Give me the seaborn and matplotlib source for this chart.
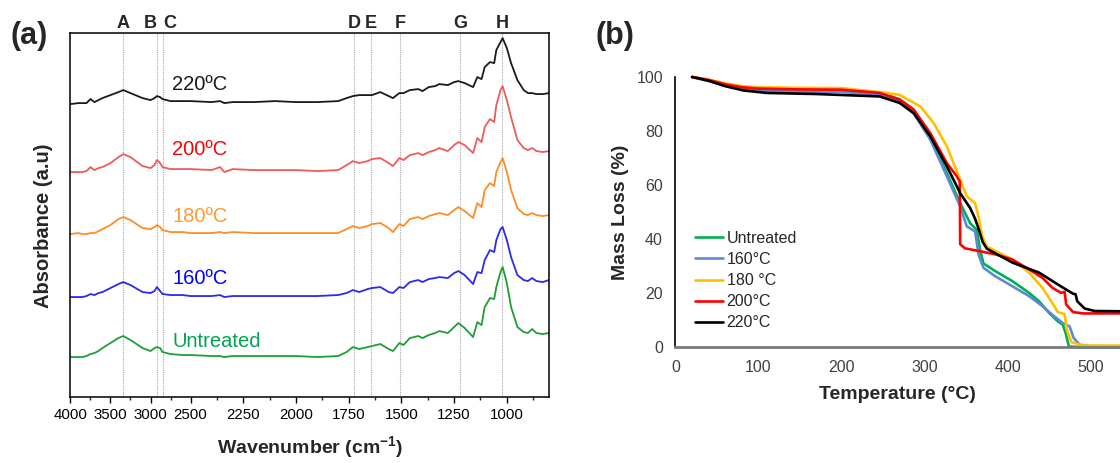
import numpy as np
import pandas as pd
import matplotlib
matplotlib.use("Agg")
import matplotlib.pyplot as plt
import seaborn as sns

# ---------------- (a) FTIR spectra ----------------
wavenumber = [4000, 3900, 3850, 3800, 3750, 3700, 3650, 3600, 3500, 3400,
              3340, 3250, 3100, 3000, 2950, 2920, 2880, 2850, 2750, 2600,
              2500, 2400, 2360, 2340, 2300, 2200, 2100, 2000, 1900, 1800,
              1760, 1730, 1700, 1660, 1640, 1600, 1560, 1540, 1510, 1490,
              1460, 1420, 1400, 1370, 1340, 1320, 1280, 1250, 1230, 1200,
              1160, 1140, 1120, 1105, 1080, 1060, 1050, 1030, 1020, 1000,
              980, 950, 920, 900, 880, 860, 830, 800]

abs_220 = [2.93, 2.94, 2.94, 2.94, 2.98, 2.95, 2.97, 2.99, 3.02, 3.05,
           3.07, 3.04, 2.99, 2.97, 2.99, 3.01, 3.00, 2.98, 2.96, 2.96,
           2.96, 2.95, 2.96, 2.94, 2.95, 2.95, 2.96, 2.95, 2.95, 2.96,
           2.99, 3.01, 3.02, 3.02, 3.02, 3.05, 3.01, 2.99, 3.04, 3.04,
           3.07, 3.08, 3.06, 3.10, 3.11, 3.13, 3.12, 3.15, 3.16, 3.14,
           3.10, 3.20, 3.18, 3.30, 3.35, 3.34, 3.47, 3.55, 3.59, 3.49,
           3.34, 3.17, 3.07, 3.04, 3.04, 3.03, 3.03, 3.04]
abs_200 = [2.25, 2.25, 2.25, 2.26, 2.30, 2.27, 2.29, 2.30, 2.34, 2.40,
           2.43, 2.40, 2.31, 2.29, 2.32, 2.37, 2.34, 2.30, 2.28, 2.28,
           2.28, 2.27, 2.30, 2.25, 2.28, 2.27, 2.27, 2.27, 2.26, 2.27,
           2.32, 2.36, 2.34, 2.36, 2.38, 2.39, 2.34, 2.31, 2.39, 2.37,
           2.42, 2.44, 2.42, 2.45, 2.47, 2.49, 2.46, 2.52, 2.55, 2.52,
           2.44, 2.59, 2.55, 2.70, 2.78, 2.75, 2.92, 3.07, 3.11, 2.97,
           2.80, 2.57, 2.49, 2.47, 2.49, 2.46, 2.45, 2.46]
abs_180 = [1.63, 1.64, 1.63, 1.63, 1.64, 1.64, 1.66, 1.68, 1.72, 1.78,
           1.80, 1.77, 1.69, 1.68, 1.70, 1.72, 1.70, 1.67, 1.65, 1.65,
           1.64, 1.64, 1.65, 1.64, 1.65, 1.64, 1.64, 1.64, 1.64, 1.64,
           1.68, 1.71, 1.69, 1.71, 1.73, 1.74, 1.69, 1.65, 1.73, 1.71,
           1.78, 1.80, 1.78, 1.81, 1.83, 1.84, 1.82, 1.87, 1.90, 1.86,
           1.79, 1.94, 1.90, 2.07, 2.14, 2.11, 2.25, 2.35, 2.39, 2.25,
           2.07, 1.89, 1.83, 1.82, 1.84, 1.82, 1.81, 1.82]
abs_160 = [1.00, 1.00, 1.00, 1.01, 1.03, 1.02, 1.04, 1.05, 1.09, 1.13,
           1.15, 1.12, 1.05, 1.04, 1.06, 1.10, 1.06, 1.03, 1.02, 1.02,
           1.01, 1.01, 1.02, 1.00, 1.01, 1.01, 1.01, 1.01, 1.01, 1.02,
           1.04, 1.07, 1.05, 1.08, 1.09, 1.10, 1.05, 1.04, 1.10, 1.09,
           1.15, 1.17, 1.15, 1.18, 1.19, 1.20, 1.19, 1.24, 1.26, 1.22,
           1.13, 1.25, 1.24, 1.37, 1.47, 1.45, 1.57, 1.68, 1.70, 1.57,
           1.40, 1.22, 1.17, 1.16, 1.19, 1.16, 1.15, 1.17]
abs_untreated = [0.40, 0.40, 0.40, 0.41, 0.43, 0.44, 0.46, 0.49, 0.54, 0.59,
                 0.61, 0.57, 0.49, 0.46, 0.49, 0.50, 0.49, 0.45, 0.43, 0.42,
                 0.42, 0.41, 0.41, 0.40, 0.41, 0.41, 0.41, 0.41, 0.40, 0.41,
                 0.45, 0.50, 0.48, 0.50, 0.51, 0.53, 0.48, 0.46, 0.54, 0.52,
                 0.59, 0.61, 0.59, 0.62, 0.64, 0.66, 0.64, 0.70, 0.74, 0.69,
                 0.60, 0.75, 0.72, 0.90, 0.99, 0.98, 1.10, 1.25, 1.30, 1.14,
                 0.90, 0.70, 0.65, 0.64, 0.68, 0.64, 0.63, 0.64]

ftir_names = ["220ºC", "200ºC", "180ºC", "160ºC", "Untreated"]
ftir_series = [abs_220, abs_200, abs_180, abs_160, abs_untreated]
ftir_line_colors = ["#1a1a1a", "#f05a5a", "#ff8c26", "#2a2af0", "#1f9e34"]
ftir_text_colors = ["#1a1a1a", "#ff0000", "#ff9933", "#0000ff", "#00a550"]

peak_letters = ["A", "B", "C", "D", "E", "F", "G", "H"]
peak_wn = [3340, 2920, 2850, 1725, 1645, 1505, 1222, 1022]

xticks_major = [4000, 3500, 3000, 2500, 2250, 2000, 1750, 1500, 1250, 1000]
xticks_minor = [3750, 3250, 2750, 2375, 2125, 1875, 1625, 1375, 1125, 875]

# ---------------- (b) TGA curves ----------------
t_untreated = [20, 40, 60, 80, 100, 150, 200, 246, 270, 287, 307, 327, 343, 355,
               363, 367, 371, 385, 405.6, 426, 438, 450, 460.5, 466.6, 470, 474,
               490, 536]
m_untreated = [100, 98.9, 97.3, 96.3, 95.8, 95.6, 95.4, 94.1, 91.8, 87.9, 78, 64.4,
               53.3, 45.9, 43.4, 36, 31, 28.2, 24.5, 20.1, 17, 12.7, 9.6, 8.3, 5.2,
               0.25, 0, 0]
t_160 = [20, 40, 60, 80, 100, 150, 200, 246, 270, 287, 307, 327, 343, 351, 361,
         365, 371, 385, 405.6, 426, 442, 454, 466.6, 474.8, 479.7, 487, 499, 536]
m_160 = [100, 98.5, 96.8, 95.5, 94.9, 94.6, 94.5, 93.4, 91, 86.6, 76.8, 63.2, 52.1,
         44.7, 42.8, 34.4, 29.4, 26.3, 22.6, 18.9, 15.2, 12, 8.9, 7.7, 3.4, 0.9,
         0.4, 0.3]
t_180 = [20, 40, 60, 80, 100, 150, 200, 246, 270, 295, 311, 327, 343, 351, 361,
         365, 369, 375, 385, 405.6, 426, 442, 454, 460.5, 468.7, 472, 477, 491, 536]
m_180 = [100, 99, 97.6, 96.6, 96.2, 96, 95.9, 94.4, 93.4, 89.1, 83, 74.3, 62, 55.8,
         53.3, 48.5, 41.5, 37.3, 35.7, 32.5, 27.6, 22, 16.4, 13, 12.3, 5.8, 1.9,
         0.6, 0.6]
t_200 = [20, 40, 60, 80, 100, 150, 200, 246, 270, 287, 307, 327, 339, 342.5, 343,
         348.7, 385, 405.6, 426, 442, 454, 464.6, 468.7, 470.7, 479, 491, 536]
m_200 = [100, 98.9, 97.3, 96.2, 95.7, 95.4, 95.3, 94.1, 91.6, 87.9, 79.2, 68.1, 63.2,
         61.3, 38.1, 36.6, 34.4, 32.5, 28.8, 25.7, 22, 20.1, 20.5, 15.8, 13, 12.5,
         12.5]
t_220 = [20, 40, 60, 82, 110, 170, 246, 270, 287, 307, 327, 343, 355, 361, 366,
         370, 375, 385, 406, 438, 467, 479, 482, 484, 493, 505, 536]
m_220 = [100, 98.6, 96.6, 95, 94.1, 93.7, 92.8, 90.4, 86.6, 78, 66.9, 57, 51.5,
         47.5, 43, 39, 36.5, 34.8, 31.3, 27.6, 22, 19.8, 19.6, 17, 14.3, 13.4, 13.3]

tga_names = ["Untreated", "160°C", "180 °C", "200°C", "220°C"]
tga_t = [t_untreated, t_160, t_180, t_200, t_220]
tga_m = [m_untreated, m_160, m_180, m_200, m_220]
tga_colors = ["#00b050", "#5b8bd8", "#ffc000", "#ff0000", "#000000"]

# ---------------- style ----------------
sns.set_style("white")
plt.rcParams["font.family"] = ["Liberation Sans", "DejaVu Sans"]
plt.rcParams["mathtext.fontset"] = "custom"
plt.rcParams["mathtext.rm"] = "Liberation Sans"
plt.rcParams["mathtext.bf"] = "Liberation Sans:bold"

fig = plt.figure(figsize=(11.2, 4.63), dpi=100)
ax1 = fig.add_axes([0.0629, 0.1425, 0.4273, 0.786])
ax2 = fig.add_axes([0.6031, 0.2501, 0.3969, 0.5836])

# broken wavenumber axis: 4000-2500 compressed, 2500-800 expanded
K = 2.634


def fwd(w):
    w = np.asarray(w, dtype=float)
    return np.where(w > 2500, w - 2500, (w - 2500) * K)


def inv(s):
    s = np.asarray(s, dtype=float)
    return np.where(s > 0, s + 2500, s / K + 2500)


ftir_df = pd.concat([pd.DataFrame({"wn": wavenumber, "A": vals, "sample": name})
                     for name, vals in zip(ftir_names, ftir_series)])

ax1.set_xscale("function", functions=(fwd, inv))
for wn in peak_wn:
    ax1.axvline(wn, color="#a8a8a8", lw=0.8, ls=(0, (1, 1)), zorder=0)

sns.lineplot(data=ftir_df, x="wn", y="A", hue="sample", hue_order=ftir_names,
             palette=dict(zip(ftir_names, ftir_line_colors)), estimator=None,
             sort=False, lw=1.3, legend=False, ax=ax1)

ax1.set_xlim(4000, 800)
ax1.set_ylim(0, 3.64)
ax1.set_xticks(xticks_major)
ax1.set_xticklabels([str(t) for t in xticks_major])
ax1.set_xticks(xticks_minor, minor=True)
ax1.set_yticks([])
ax1.tick_params(axis="x", which="major", direction="out", length=4, width=1,
                bottom=True, labelsize=10.8, pad=4, colors="#000000")
ax1.tick_params(axis="x", which="minor", direction="out", length=2.5, width=1,
                bottom=True)
for sp in ax1.spines.values():
    sp.set_visible(True)
    sp.set_color("#000000")
    sp.set_linewidth(1.1)

ax1.set_xlabel(r"Wavenumber (cm$^{\mathbf{-1}}$)", fontsize=14, fontweight="bold",
               labelpad=9)
ax1.set_ylabel("Absorbance (a.u)", fontsize=14.5, fontweight="bold")
ax1.yaxis.set_label_coords(-0.036, 0.47)

# peak letters above the frame
letter_shift = {"B": -5, "C": 5}
for letter, wn in zip(peak_letters, peak_wn):
    ax1.annotate(letter, xy=(wn, 1.027), xycoords=ax1.get_xaxis_transform(),
                 xytext=(letter_shift.get(letter, 0), 0), textcoords="offset points",
                 ha="center", va="center", fontsize=13, fontweight="bold",
                 annotation_clip=False)

# sample labels next to each spectrum
label_y = [3.13, 2.48, 1.81, 1.19, 0.56]
for name, col, y in zip(ftir_names, ftir_text_colors, label_y):
    ax1.text(2730, y, name, color=col, fontsize=14.5, ha="left", va="center")

# ---------------- (b) ----------------
tga_df = pd.concat([pd.DataFrame({"T": t, "M": m, "sample": name})
                    for name, t, m in zip(tga_names, tga_t, tga_m)])
sns.lineplot(data=tga_df, x="T", y="M", hue="sample", hue_order=tga_names,
             palette=dict(zip(tga_names, tga_colors)), estimator=None, sort=False,
             lw=1.9, ax=ax2)

ax2.set_xlim(0, 535.5)
ax2.set_ylim(0, 100)
ax2.set_xticks([0, 100, 200, 300, 400, 500])
ax2.set_yticks([0, 20, 40, 60, 80, 100])
ax2.tick_params(axis="both", length=0, labelsize=11.5, colors="#404040", pad=9)
for side in ["top", "right"]:
    ax2.spines[side].set_visible(False)
ax2.spines["left"].set_color("#000000")
ax2.spines["left"].set_linewidth(1.2)
ax2.spines["bottom"].set_color("#7a7a7a")
ax2.spines["bottom"].set_linewidth(2)
for line in ax2.lines:
    line.set_clip_on(False)

ax2.set_xlabel("Temperature (°C)", fontsize=14, fontweight="bold", labelpad=8)
ax2.set_ylabel("Mass Loss (%)", fontsize=14, fontweight="bold", labelpad=5)

handles, labels = ax2.get_legend_handles_labels()
ax2.legend(handles, labels, loc="upper left", bbox_to_anchor=(0.045, 0.43),
           frameon=False, fontsize=11.5, handlelength=1.75, handletextpad=0.2,
           labelspacing=0.38, borderpad=0, borderaxespad=0)

fig.text(0.009, 1 - 36 / 463, "(a)", fontsize=22, fontweight="bold", va="center")
fig.text(0.532, 1 - 36 / 463, "(b)", fontsize=22, fontweight="bold", va="center")

fig.savefig("out.png", dpi=100)
